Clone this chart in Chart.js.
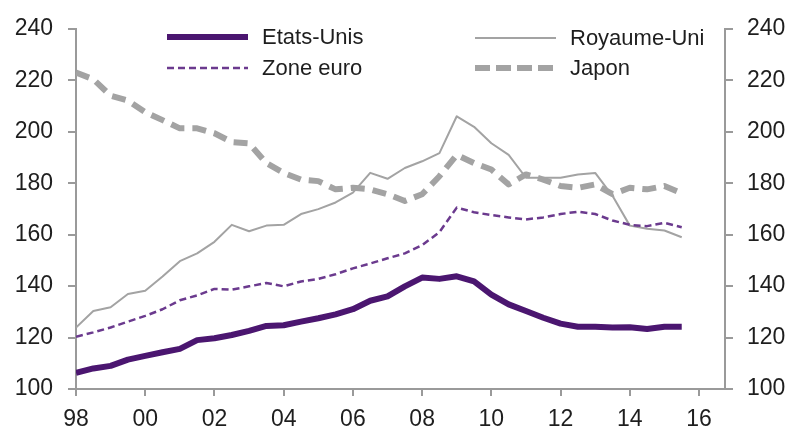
<!DOCTYPE html>
<html lang="fr">
<head>
<meta charset="utf-8">
<title>Dette</title>
<script src="https://cdn.jsdelivr.net/npm/chart.js@4/dist/chart.umd.min.js"></script>
<style>
  html, body { margin: 0; padding: 0; background: #ffffff; }
  #wrap { width: 790px; height: 430px; }
</style>
</head>
<body>
<div id="wrap"><canvas id="debtChart" width="790" height="430"></canvas></div>
<script>
// Données (semestrielles)
const periodes = [1998, 1998.5, 1999, 1999.5, 2000, 2000.5, 2001, 2001.5, 2002, 2002.5,
    2003, 2003.5, 2004, 2004.5, 2005, 2005.5, 2006, 2006.5, 2007, 2007.5,
    2008, 2008.5, 2009, 2009.5, 2010, 2010.5, 2011, 2011.5, 2012, 2012.5,
    2013, 2013.5, 2014, 2014.5, 2015, 2015.5];

const etatsUnis = [106.3, 108, 109, 111.4, 112.9, 114.3, 115.6, 119, 119.7, 121,
    122.6, 124.5, 124.8, 126.2, 127.5, 129, 131, 134.3, 136, 139.9,
    143.3, 142.8, 143.8, 141.8, 136.7, 132.9, 130.3, 127.7, 125.4, 124.2,
    124.2, 123.9, 124, 123.3, 124.2, 124.2];

const zoneEuro = [120.3, 122, 123.9, 126.2, 128.4, 131, 134.5, 136.4, 138.9, 138.6,
    139.9, 141.2, 139.9, 141.8, 142.8, 144.6, 146.9, 148.8, 150.8, 152.7,
    155.9, 161, 170.5, 168.7, 167.6, 166.7, 165.9, 166.7, 168, 168.9,
    168, 165.5, 163.8, 163.3, 164.6, 162.9];

const royaumeUni = [123.9, 130.3, 131.8, 136.9, 138.2, 143.7, 149.7, 152.7, 157.2, 163.8,
    161.3, 163.5, 163.8, 168, 169.9, 172.5, 176.3, 184, 181.7, 185.9,
    188.5, 191.7, 206, 201.9, 195.5, 191, 182.1, 182.1, 182.1, 183.4,
    184, 175.1, 163.5, 162.3, 161.6, 159];

const japon = [223, 220.4, 214, 212.1, 207.6, 204.5, 201.3, 201.3, 199.4, 196,
    195.5, 187.8, 184, 181.4, 180.8, 177.6, 178.2, 177.6, 175.7, 173.1,
    175.7, 182.7, 191, 187.8, 185.3, 179.5, 183.4, 181.4, 178.9, 178.2,
    179.5, 175.7, 178.2, 177.6, 178.9, 176.1];

const xTicks = [1998, 2000, 2002, 2004, 2006, 2008, 2010, 2012, 2014, 2016];
const xTickLabels = ['98', '00', '02', '04', '06', '08', '10', '12', '14', '16'];
const yTicks = [100, 120, 140, 160, 180, 200, 220, 240];

const couleurs = {
    violet: '#4b1670',
    violetClair: '#6b3a8e',
    gris: '#a3a3a3',
    axe: '#9a9a9a',
    texte: '#1e1e1e'
};

function serie(valeurs) {
    return valeurs.map((v, i) => ({ x: periodes[i], y: v }));
}

// Légende sur deux colonnes, dessinée dans la zone du graphique
const legendeDeuxColonnes = {
    id: 'legendeDeuxColonnes',
    afterDraw(chart) {
        const ctx = chart.ctx;
        const places = [
            { ds: 0, x: 167, y: 37 },
            { ds: 1, x: 167, y: 68 },
            { ds: 2, x: 475, y: 38 },
            { ds: 3, x: 475, y: 68 }
        ];
        ctx.save();
        ctx.font = '22px "Liberation Sans", Arial, sans-serif';
        ctx.textBaseline = 'middle';
        places.forEach(p => {
            const ds = chart.data.datasets[p.ds];
            ctx.strokeStyle = ds.borderColor;
            ctx.lineWidth = ds.borderWidth;
            ctx.setLineDash(ds.legendDash || ds.borderDash || []);
            ctx.lineCap = 'butt';
            ctx.beginPath();
            ctx.moveTo(p.x, p.y);
            ctx.lineTo(p.x + 81, p.y);
            ctx.stroke();
            ctx.setLineDash([]);
            ctx.fillStyle = couleurs.texte;
            ctx.fillText(ds.label, p.x + 95, p.y + 1);
        });
        ctx.restore();
    }
};

const policeAxes = { family: '"Liberation Sans", Arial, sans-serif', size: 23 };

function axeY(position, largeur, marge) {
    return {
        type: 'linear',
        position: position,
        min: 100,
        max: 240,
        afterBuildTicks: scale => { scale.ticks = yTicks.map(v => ({ value: v })); },
        afterFit: scale => { scale.width = largeur; },
        ticks: {
            color: couleurs.texte,
            font: policeAxes,
            padding: marge
        },
        grid: {
            drawOnChartArea: false,
            drawTicks: true,
            tickLength: 8,
            color: couleurs.axe,
            lineWidth: 2
        },
        border: { display: true, color: couleurs.axe, width: 2 }
    };
}

new Chart(document.getElementById('debtChart'), {
    type: 'line',
    data: {
        datasets: [
            {
                label: 'Etats-Unis',
                data: serie(etatsUnis),
                borderColor: couleurs.violet,
                borderWidth: 6,
                order: 1
            },
            {
                label: 'Zone euro',
                data: serie(zoneEuro),
                borderColor: couleurs.violetClair,
                borderWidth: 2.5,
                borderDash: [7, 4],
                order: 2
            },
            {
                label: 'Royaume-Uni',
                data: serie(royaumeUni),
                borderColor: couleurs.gris,
                borderWidth: 2,
                order: 3
            },
            {
                label: 'Japon',
                data: serie(japon),
                borderColor: couleurs.gris,
                borderWidth: 6,
                borderDash: [14, 8],
                legendDash: [15, 6],
                order: 0
            }
        ]
    },
    options: {
        responsive: false,
        animation: false,
        layout: { padding: { top: 24, left: 0, right: 0, bottom: 0 } },
        elements: {
            point: { radius: 0 },
            line: { tension: 0, fill: false, borderCapStyle: 'butt', borderJoinStyle: 'round' }
        },
        plugins: {
            legend: { display: false },
            tooltip: { enabled: false }
        },
        scales: {
            x: {
                type: 'linear',
                min: 1998,
                max: 2016.75,
                afterBuildTicks: scale => { scale.ticks = xTicks.map(v => ({ value: v })); },
                afterFit: scale => { scale.height = 41; },
                ticks: {
                    color: couleurs.texte,
                    font: policeAxes,
                    padding: 10,
                    maxRotation: 0,
                    callback: (value) => xTickLabels[xTicks.indexOf(value)]
                },
                grid: {
                    drawOnChartArea: false,
                    drawTicks: true,
                    tickLength: 7,
                    color: couleurs.axe,
                    lineWidth: 2
                },
                border: { display: true, color: couleurs.axe, width: 2 }
            },
            y: axeY('left', 76, 15),
            y2: axeY('right', 65, 14)
        }
    },
    plugins: [legendeDeuxColonnes]
});
</script>
</body>
</html>
